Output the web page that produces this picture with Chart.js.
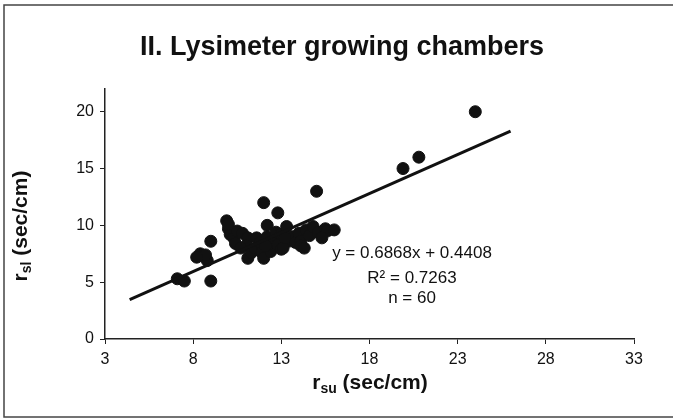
<!DOCTYPE html>
<html>
<head>
<meta charset="utf-8">
<script src="https://cdn.jsdelivr.net/npm/chart.js@4.4.1/dist/chart.umd.min.js"></script>
<style>
    html, body { margin: 0; padding: 0; background: #fff; }
    #wrap { width: 673px; height: 418px; position: relative; }
</style>
</head>
<body>
<div id="wrap"><canvas id="lysiChart" width="673" height="418"></canvas></div>
<script>
// Stomatal resistance, upper (rsu) vs lower (rsl) leaf surface, sec/cm
const rsu = [
    7.1, 7.5, 9.0, 8.4, 8.8, 9.0, 8.7, 8.2,
    9.9, 10.0, 10.1, 10.3, 10.5, 10.4, 10.8, 11.1, 11.0, 11.1, 11.3, 11.5, 11.6, 11.8,
    10.0, 10.7, 11.9,
    12.0, 12.0, 12.2, 12.2, 12.4, 12.3, 12.6, 12.8, 12.8, 12.7, 13.0, 13.0, 13.3, 13.4,
    13.1, 13.6, 13.8, 14.0, 14.1, 14.1, 14.4, 14.6, 14.8, 15.0, 15.1, 15.5, 15.6, 16.0,
    14.3, 12.1, 13.2, 15.3,
    19.9, 20.8, 24.0
];
const rsl = [
    5.3, 5.1, 5.1, 7.5, 6.9, 8.6, 7.4, 7.2,
    10.4, 9.7, 9.2, 8.9, 9.5, 8.4, 9.3, 8.9, 8.2, 7.1, 7.6, 8.0, 8.9, 8.5,
    10.1, 8.0, 7.6,
    12.0, 7.1, 10.0, 9.0, 7.7, 8.4, 8.7, 11.1, 8.3, 9.4, 9.2, 7.9, 9.9, 8.6,
    8.0, 9.0, 8.5, 9.3, 8.6, 8.2, 9.6, 9.1, 9.9, 13.0, 9.4, 9.7, 9.5, 9.6,
    8.0, 8.2, 8.9, 8.9,
    15.0, 16.0, 20.0
];

// Linear fit reported on the chart
const slope = 0.6868;
const intercept = 0.4408;
const rSquared = 0.7263;
const fitRange = [4.4, 26.0];

const xTicks = [3, 8, 13, 18, 23, 28, 33];
const yTicks = [0, 5, 10, 15, 20];

const points = rsu.map((x, i) => ({ x: x, y: rsl[i] }));
const fitLine = fitRange.map(x => ({ x: x, y: slope * x + intercept }));

const FONT = '"Liberation Sans", Arial, sans-serif';

// Draws the frame, title, axis titles (with subscripts) and the fit annotation
const labelsPlugin = {
    id: 'labels',
    afterDraw(chart) {
        const ctx = chart.ctx;
        ctx.save();
        ctx.strokeStyle = '#444';
        ctx.lineWidth = 1.5;
        ctx.strokeRect(4, 5, 675, 412);

        ctx.fillStyle = '#111';
        ctx.textAlign = 'center';
        ctx.textBaseline = 'middle';
        ctx.font = 'bold 27px ' + FONT;
        ctx.fillText('II. Lysimeter growing chambers', 342, 48);

        // axis title: r + subscript + rest
        const drawSubTitle = (sub, rest) => {
            ctx.font = 'bold 21px ' + FONT;
            const wR = ctx.measureText('r').width;
            const wRest = ctx.measureText(rest).width;
            ctx.font = 'bold 14px ' + FONT;
            const wSub = ctx.measureText(sub).width;
            const total = wR + wSub + wRest;
            let x = -total / 2;
            ctx.textAlign = 'left';
            ctx.font = 'bold 21px ' + FONT;
            ctx.fillText('r', x, 0);
            x += wR;
            ctx.font = 'bold 14px ' + FONT;
            ctx.fillText(sub, x, 6);
            x += wSub;
            ctx.font = 'bold 21px ' + FONT;
            ctx.fillText(rest, x, 0);
        };

        ctx.save();
        ctx.translate(370, 383);
        drawSubTitle('su', ' (sec/cm)');
        ctx.restore();

        ctx.save();
        ctx.translate(21, 226);
        ctx.rotate(-Math.PI / 2);
        drawSubTitle('sl', ' (sec/cm)');
        ctx.restore();

        // regression annotation
        ctx.textAlign = 'center';
        ctx.font = '17px ' + FONT;
        ctx.fillStyle = '#111';
        ctx.fillText('y = ' + slope + 'x + ' + intercept, 412, 253);
        ctx.fillText('R\u00B2 = ' + rSquared, 412, 278);
        ctx.fillText('n = ' + rsu.length, 412, 298);
        ctx.restore();
    }
};

new Chart(document.getElementById('lysiChart').getContext('2d'), {
    type: 'scatter',
    data: {
        datasets: [{
            data: points,
            backgroundColor: '#111',
            borderColor: '#111',
            pointRadius: 6,
            pointHoverRadius: 6,
            order: 2
        }, {
            type: 'line',
            data: fitLine,
            borderColor: '#111',
            borderWidth: 3,
            pointRadius: 0,
            fill: false,
            order: 1
        }]
    },
    options: {
        responsive: false,
        animation: false,
        layout: { padding: { top: 89, right: 39, left: 0, bottom: 0 } },
        plugins: {
            legend: { display: false },
            tooltip: { enabled: false }
        },
        scales: {
            x: {
                type: 'linear',
                min: 3,
                max: 33,
                afterBuildTicks: axis => { axis.ticks = xTicks.map(v => ({ value: v })); },
                afterFit: scale => { scale.height = 79; },
                border: { color: '#222', width: 1.5 },
                grid: { drawOnChartArea: false, tickLength: 5, color: '#222', tickColor: '#222' },
                ticks: { color: '#111', font: { family: FONT, size: 16 }, padding: 6 }
            },
            y: {
                min: 0,
                max: 22,
                afterBuildTicks: axis => { axis.ticks = yTicks.map(v => ({ value: v })); },
                afterFit: scale => { scale.width = 105; },
                border: { color: '#222', width: 1.5 },
                grid: { drawOnChartArea: false, tickLength: 5, color: '#222', tickColor: '#222' },
                ticks: { color: '#111', font: { family: FONT, size: 16 }, padding: 6 }
            }
        }
    },
    plugins: [labelsPlugin]
});
</script>
</body>
</html>
